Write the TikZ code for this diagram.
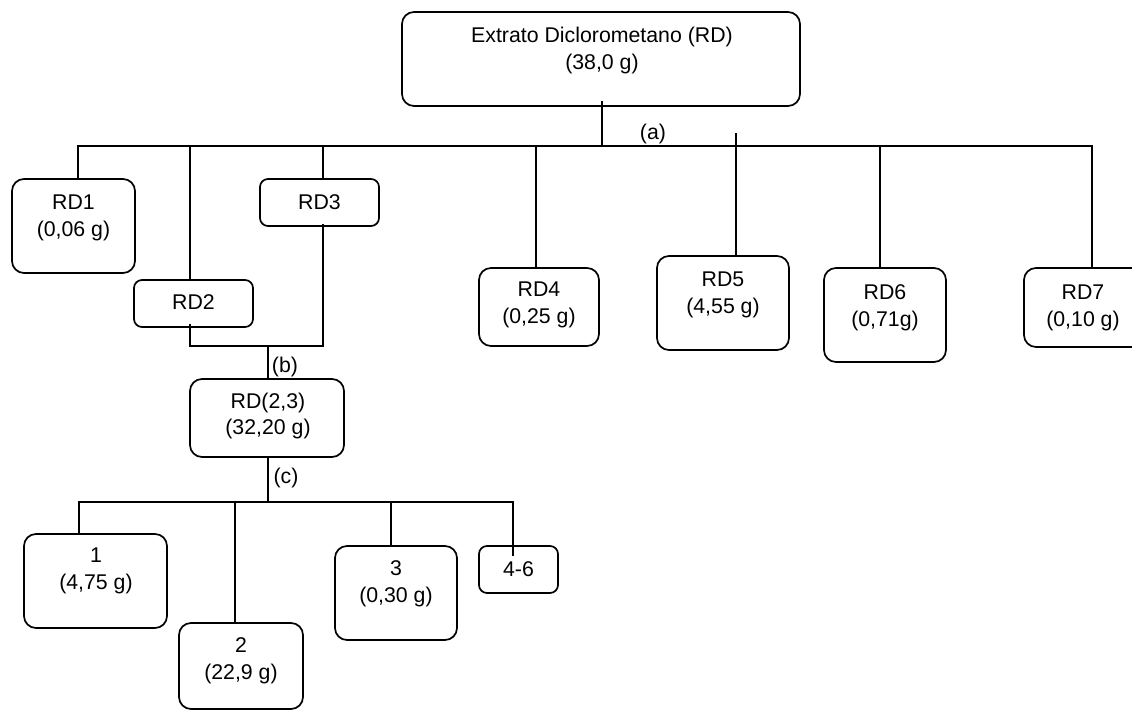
\documentclass[tikz,border=0pt]{standalone}
\usepackage{fontspec}
\setmainfont{Liberation Sans}
\begin{document}
\begin{tikzpicture}[x=0.5pt,y=-0.5pt,
  box/.style={draw, line width=0.85pt, rounded corners=6pt, inner sep=0pt},
  sbox/.style={draw, line width=0.85pt, rounded corners=4pt, inner sep=0pt},
  lbl/.style={align=center, inner sep=0pt, font=\fontsize{10.65pt}{13.4pt}\selectfont},
  conn/.style={line width=0.7pt}]
\clip (0,0) rectangle (1132,711);
% boxes
\node[box, minimum width=199pt, minimum height=47pt] (top) at (601,59) {};
\node[lbl] (topt) at (602,50.5) {Extrato Diclorometano (RD)\\(38,0 g)};
\node[box, minimum width=61.5pt, minimum height=47pt] (rd1) at (73.5,226) {};
\node[lbl] (rd1t) at (73.5,217.5) {RD1\\(0,06 g)};
\node[sbox, minimum width=59.5pt, minimum height=23.5pt] (rd2) at (193.5,303.5) {};
\node[lbl] (rd2t) at (193.5,302.5) {RD2};
\node[sbox, minimum width=59.5pt, minimum height=23.5pt] (rd3) at (319.5,202.5) {};
\node[lbl] (rd3t) at (319.5,202) {RD3};
\node[box, minimum width=60pt, minimum height=39pt] (rd4) at (539,307) {};
\node[lbl] (rd4t) at (539,304.5) {RD4\\(0,25 g)};
\node[box, minimum width=66pt, minimum height=47pt] (rd5) at (723,303) {};
\node[lbl] (rd5t) at (723,294.5) {RD5\\(4,55 g)};
\node[box, minimum width=61pt, minimum height=47pt] (rd6) at (885,315) {};
\node[lbl] (rd6t) at (885,307.5) {RD6\\(0,71g)};
\node[box, minimum width=68pt, minimum height=39.5pt] (rd7) at (1092,307.5) {};
\node[lbl] (rd7t) at (1083,307.5) {RD7\\(0,10 g)};
\node[box, minimum width=77pt, minimum height=39pt] (rd23) at (267,418) {};
\node[lbl] (rd23t) at (268,416) {RD(2,3)\\(32,20 g)};
\node[box, minimum width=71.5pt, minimum height=47pt] (f1) at (95.5,581) {};
\node[lbl] (f1t) at (96,570.5) {1\\(4,75 g)};
\node[box, minimum width=62pt, minimum height=43pt] (f2) at (241,666) {};
\node[lbl] (f2t) at (241,660.5) {2\\(22,9 g)};
\node[box, minimum width=61pt, minimum height=47pt] (f3) at (396,593) {};
\node[lbl] (f3t) at (396,584) {3\\(0,30 g)};
\node[sbox, minimum width=39.5pt, minimum height=23.5pt] (f4) at (518.5,569.5) {};
\node[lbl] (f4t) at (518.5,569) {4-6};
% junctions
\coordinate (ja) at (602,146);
\coordinate (a5) at (736,133);
\coordinate (jb) at (268,346);
\coordinate (jc) at (268,502);
% connectors (a)
\draw[conn] ([xshift=0.5pt,yshift=3pt]top.south) -- (ja);
\draw[conn] ([xshift=2.25pt]rd1.north) |- (ja) -| (rd7.north);
\draw[conn] ([xshift=-1.75pt]rd2.north) -- ([xshift=-1.75pt]rd2.north |- ja);
\draw[conn] ([xshift=1.75pt]rd3.north) -- ([xshift=1.75pt]rd3.north |- ja);
\draw[conn] ([xshift=-1.5pt]rd4.north) -- ([xshift=-1.5pt]rd4.north |- ja);
\draw[conn] ([xshift=6.5pt]rd5.north) -- (a5);
\draw[conn] ([xshift=-2.5pt]rd6.north) -- ([xshift=-2.5pt]rd6.north |- ja);
\node[lbl] (la) at (653,134) {(a)};
% connectors (b)
\draw[conn] ([xshift=-1.75pt,yshift=2pt]rd2.south) |- (jb) -| ([xshift=1.75pt,yshift=1.5pt]rd3.south);
\draw[conn] (jb) -- ([xshift=0.5pt]rd23.north);
\node[lbl] (lb) at (285,367) {(b)};
% connectors (c)
\draw[conn] ([xshift=0.5pt]rd23.south) -- (jc);
\draw[conn] ([xshift=-8.25pt]f1.north) |- (jc) -| ([xshift=-2.75pt,yshift=-5.5pt]f4.north);
\draw[conn] ([xshift=-3pt]f2.north) -- ([xshift=-3pt]f2.north |- jc);
\draw[conn] ([xshift=-2.5pt]f3.north) -- ([xshift=-2.5pt]f3.north |- jc);
\node[lbl] (lc) at (286,478) {(c)};
\end{tikzpicture}
\end{document}
